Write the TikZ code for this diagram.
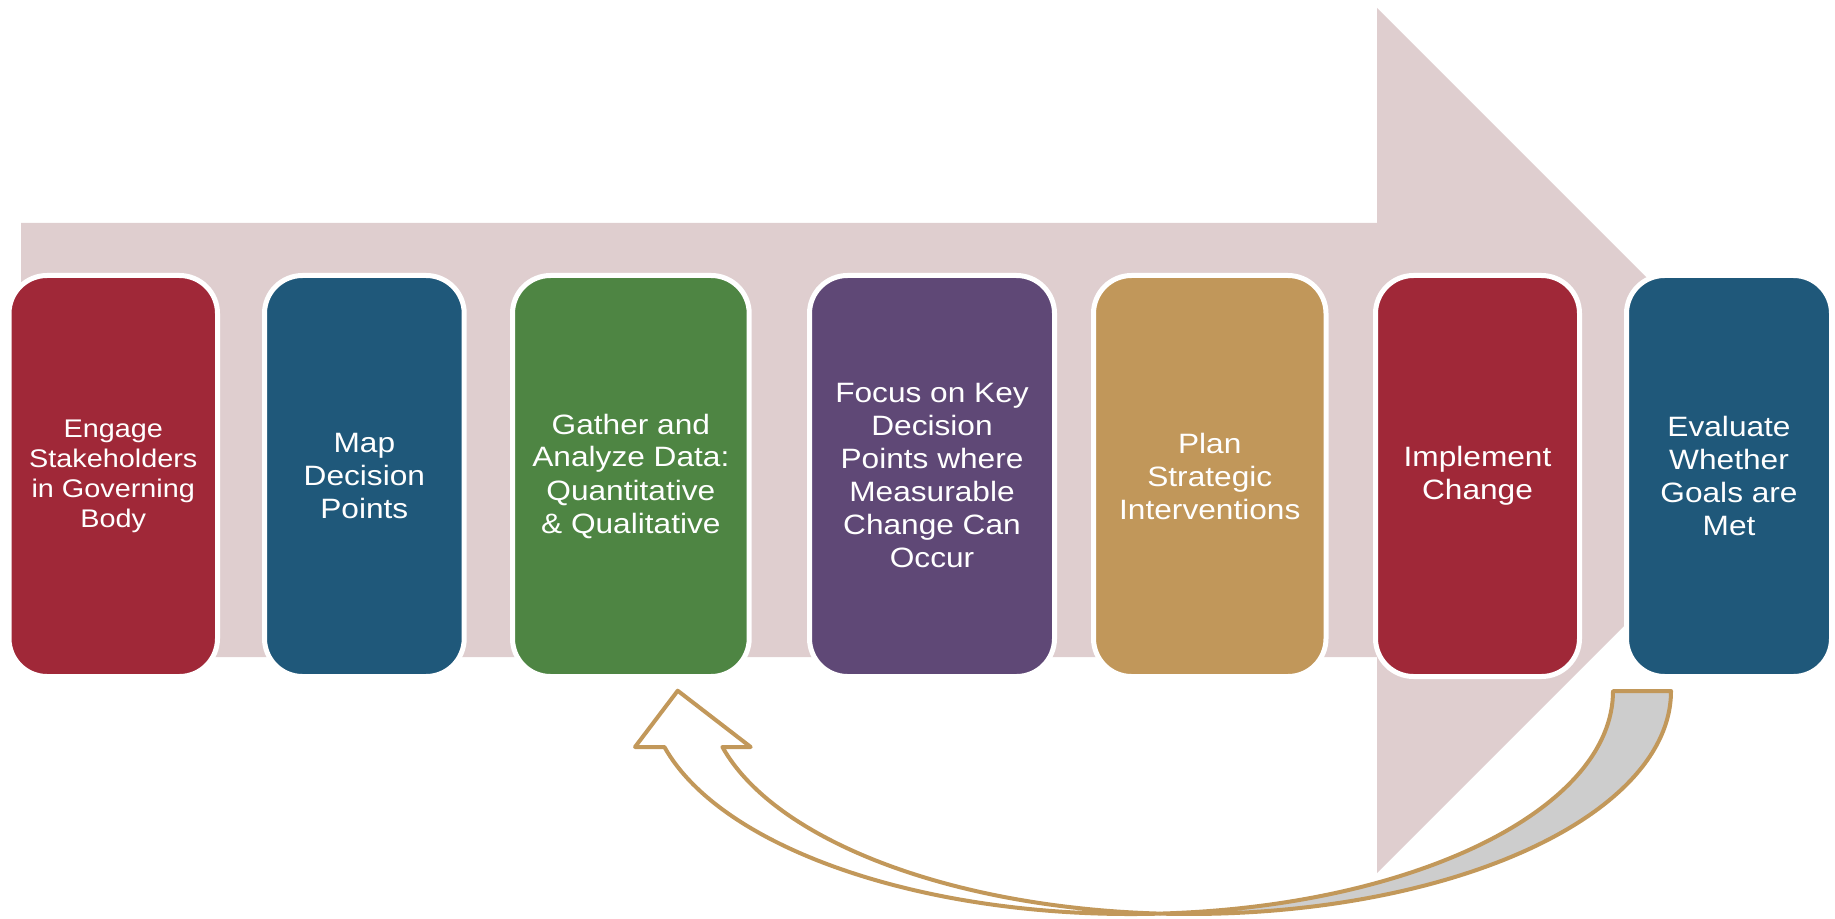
\documentclass[tikz,border=0pt]{standalone}
\usepackage{fontspec}
\setmainfont{Liberation Sans}[FakeStretch=1.13]
\definecolor{bandpink}{RGB}{223,206,207}
\definecolor{stagered}{RGB}{160,40,56}
\definecolor{stageblue}{RGB}{31,88,122}
\definecolor{stagegreen}{RGB}{78,133,67}
\definecolor{stagepurple}{RGB}{95,72,118}
\definecolor{stagegold}{RGB}{193,151,90}
\definecolor{looptan}{RGB}{194,152,90}
\definecolor{loopgray}{RGB}{205,205,205}
\tikzset{
  stage/.style={draw=white, line width=2.5pt, rounded corners=19pt, text=white, align=center,
    inner sep=0pt, minimum height=200.5pt, font=\fontsize{14}{16.5}\selectfont},
  loop arrow/.style={draw=looptan, line width=2pt, line join=round}
}
\begin{document}
\begin{tikzpicture}[x=0.5pt, y=-0.5pt]
    \useasboundingbox (0,0) rectangle (1835,919);
    % wide background arrow
    \fill[bandpink] (21,223) -- (1377,223) -- (1377,8) -- (1809.5,440.5) -- (1377,873) -- (1377,657) -- (21,657) -- cycle;
    % feedback arrow: back half (grey) then front half with head
    \draw[loop arrow, fill=loopgray] (1671,691)
        arc[start angle=0, end angle=93.45, x radius=482, y radius=223]
        arc[start angle=86.55, end angle=0, x radius=482, y radius=223] -- cycle;
    \draw[loop arrow, fill=white] (664.4,747)
        arc[start angle=165.46, end angle=86.55, x radius=482, y radius=223]
        arc[start angle=93.45, end angle=165.46, x radius=482, y radius=223]
        -- (750.7,747) -- (677.7,690.7) -- (635,747) -- cycle;
    % the seven stages
    \node[stage, fill=stagered, minimum width=104.25pt, font=\fontsize{12.75}{15}\selectfont] (engage) at (113.25,476) {Engage\\Stakeholders\\in Governing\\Body};
    \node[stage, fill=stageblue, minimum width=99.85pt] (map) at (364.35,476) {Map\\Decision\\Points};
    \node[stage, fill=stagegreen, minimum width=118.35pt] (gather) at (630.85,476) {Gather and\\Analyze Data:\\Quantitative\\\& Qualitative};
    \node[stage, fill=stagepurple, minimum width=122.5pt] (focus) at (932,476) {Focus on Key\\Decision\\Points where\\Measurable\\Change Can\\Occur};
    \node[stage, fill=stagegold, minimum width=116.25pt] (plan) at (1209.75,476) {Plan\\Strategic\\Interventions};
    \node[stage, fill=stagered, minimum width=102pt] (implement) at (1477.5,476) {Implement\\Change};
    \node[stage, fill=stageblue, minimum width=102.5pt] (evaluate) at (1729,476) {Evaluate\\Whether\\Goals are\\Met};
\end{tikzpicture}
\end{document}
